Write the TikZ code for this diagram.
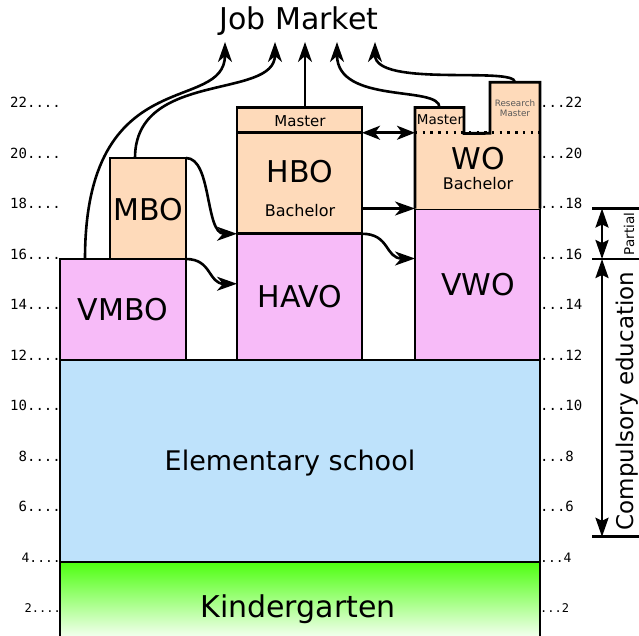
\documentclass[tikz,border=0pt]{standalone}
\usepackage{fontspec}
\setmainfont{DejaVu Sans}
\newfontfamily\monof{DejaVu Sans Mono}
\usetikzlibrary{arrows.meta}
\definecolor{pk}{RGB}{254,218,186}
\definecolor{vi}{RGB}{247,187,248}
\definecolor{bl}{RGB}{190,226,251}
\definecolor{gr}{RGB}{78,255,16}
\begin{document}
\begin{tikzpicture}[x=1pt,y=-1pt,
  box/.style={draw=black,line width=2.9pt,inner sep=0pt,outer sep=0pt,anchor=north west},
  fillonly/.style={inner sep=0pt,outer sep=0pt,anchor=north west},
  edge/.style={line width=2.9pt,line join=miter},
  big/.style={font=\fontsize{30}{32}\selectfont},
  mid/.style={font=\fontsize{16}{18}\selectfont},
  sml/.style={font=\fontsize{15}{17}\selectfont},
  lab/.style={font=\monof\fontsize{14}{15}\selectfont,inner sep=0pt},
  conn/.style={line width=2.6pt,-{Stealth[length=20pt,width=14pt,inset=6pt]}},
  dconn/.style={line width=2.6pt,{Stealth[length=18pt,width=14pt,inset=5pt]}-{Stealth[length=18pt,width=14pt,inset=5pt]}},
  span/.style={line width=2.6pt,{Stealth[length=19pt,width=13pt,inset=3pt]}-{Stealth[length=19pt,width=13pt,inset=3pt]}},
  tick/.style={line width=2.7pt}
]
\useasboundingbox (0,0) rectangle (639,635);
% axis labels
\foreach \a in {22,20,18,16,14,12,10,8,6} {
  \node[lab,anchor=base east] (l\a) at (61,{663-25.25*\a}) {\a....};
  \node[lab,anchor=base west] (r\a) at (540,{663-25.25*\a}) {...\a};
}
\node[lab,anchor=base east,font=\monof\fontsize{13}{14}\selectfont] (l4) at (61,562) {4....};
\node[lab,anchor=base west,font=\monof\fontsize{13}{14}\selectfont] (r4) at (540,562) {...4};
\node[lab,anchor=base east,font=\monof\fontsize{12}{13}\selectfont] (l2) at (61,612.5) {2....};
\node[lab,anchor=base west,font=\monof\fontsize{12}{13}\selectfont] (r2) at (540,612.5) {...2};

% kindergarten
\node[fillonly,minimum width=480pt,minimum height=80pt,top color=gr,bottom color=white] (kg) at (60,562) {};
\draw[edge] (kg.north west) -- (kg.south west);
\draw[edge] (kg.north east) -- (kg.south east);
% elementary
\node[box,fill=bl,minimum width=480pt,minimum height=202pt] (elem) at (60,360) {};
% VMBO / MBO
\node[box,fill=vi,minimum width=126pt,minimum height=101pt] (vmbo) at (60,259) {};
\node[box,fill=pk,minimum width=76pt,minimum height=101pt] (mbo) at (110,158) {};
% HAVO / HBO
\node[box,fill=vi,minimum width=125pt,minimum height=126.25pt] (havo) at (237,233.75) {};
\node[box,fill=pk,minimum width=125pt,minimum height=101pt] (hbo) at (237,132.75) {};
\node[box,fill=pk,minimum width=125pt,minimum height=25.25pt] (hbom) at (237,107.5) {};
% VWO / WO
\node[box,fill=vi,minimum width=125pt,minimum height=151.5pt] (vwo) at (415,208.5) {};
\node[fillonly,fill=pk,minimum width=125pt,minimum height=75.75pt] (wo) at (415,132.75) {};
\node[fillonly,fill=pk,minimum width=49pt,minimum height=26pt] (wom) at (415,107.5) {};
\node[fillonly,fill=pk,minimum width=50pt,minimum height=51pt] (worm) at (490,82.25) {};
\draw[edge] (wo.south west) -- (wom.north west) -- (wom.north east) -- (wom.south east)
  -- (worm.south west) -- (worm.north west) -- (worm.north east) -- (wo.south east);
\draw[line width=2.6pt,dash pattern=on 2.4pt off 5.3pt] (wo.north west) -- (wo.north east);

% texts
\node[font=\fontsize{30}{32}\selectfont] (job) at (299,21) {Job Market};
\node[big] (tvmbo) at (123,310) {VMBO};
\node[big] (tmbo) at (148,210) {MBO};
\node[big] (thavo) at (300,297) {HAVO};
\node[big] (thbo) at (300,172) {HBO};
\node[mid] (thbob) at (300,211) {Bachelor};
\node[sml] (thbom) at (300,121) {Master};
\node[big] (tvwo) at (478,285) {VWO};
\node[big] (two) at (478,159) {WO};
\node[mid] (twob) at (478,184) {Bachelor};
\node[font=\fontsize{13.5}{15}\selectfont,inner sep=0pt] (twom) at (440,120) {Master};
\node[font=\fontsize{8.8}{9.5}\selectfont,text=black!65,align=center,inner sep=0pt] (trm) at (515,108) {Research\\Master};
\node[font=\fontsize{27}{30}\selectfont] (telem) at (290,463) {Elementary school};
\node[big] (tkg) at (298,609) {Kindergarten};

% job market targets
\coordinate (j1) at (225,42);
\coordinate (j2) at (275,42);
\coordinate (j3) at (305,42);
\coordinate (j4) at (337,42);
\coordinate (j5) at (375,42);
\draw[conn] ([xshift=25pt]vmbo.north west) .. controls (85,60) and (225,115) .. (j1);
\draw[conn] ([xshift=25pt]mbo.north west) .. controls (135,70) and (275,100) .. (j2);
\draw[conn] ([xshift=5.5pt]hbom.north) -- (j3);
\draw[conn] (wom.north) .. controls (440,85) and (337,105) .. (j4);
\draw[conn] (worm.north) .. controls (515,66) and (375,88) .. (j5);

% transfers
\draw[conn] (mbo.north east) .. controls (212,158) and (205,233.75) .. (havo.north west);
\draw[conn] (vmbo.north east) .. controls (212,259) and (208,283.75) .. ([yshift=-50pt]havo.north west);
\draw[conn] (havo.north east) .. controls (390,233.75) and (385,258.5) .. ([yshift=-50pt]vwo.north west);
\draw[conn] ([yshift=25.25pt]hbo.south east) -- (vwo.north west);
\draw[dconn] (hbom.south east) -- (wo.north west);

% right brackets
\coordinate (p1) at (602,208.5);
\coordinate (p2) at (602,259);
\coordinate (p3) at (602,536.75);
\coordinate (h1a) at (592,208.5); \coordinate (h1b) at (639,208.5);
\coordinate (h2a) at (592,259); \coordinate (h2b) at (639,259);
\coordinate (h3a) at (592,536.75); \coordinate (h3b) at (639,536.75);
\draw[tick] (h1a) -- (h1b);
\draw[tick] (h2a) -- (h2b);
\draw[tick] (h3a) -- (h3b);
\draw[span] (p1) -- (p2);
\draw[span] (p2) -- (p3);
\node[rotate=90,anchor=base,font=\fontsize{13.5}{14}\selectfont,inner sep=0pt] (tpart) at (634,234) {Partial};
\node[rotate=90,anchor=base,font=\fontsize{23}{24}\selectfont,inner sep=0pt] (tcomp) at (633,401) {Compulsory education};
\end{tikzpicture}
\end{document}
